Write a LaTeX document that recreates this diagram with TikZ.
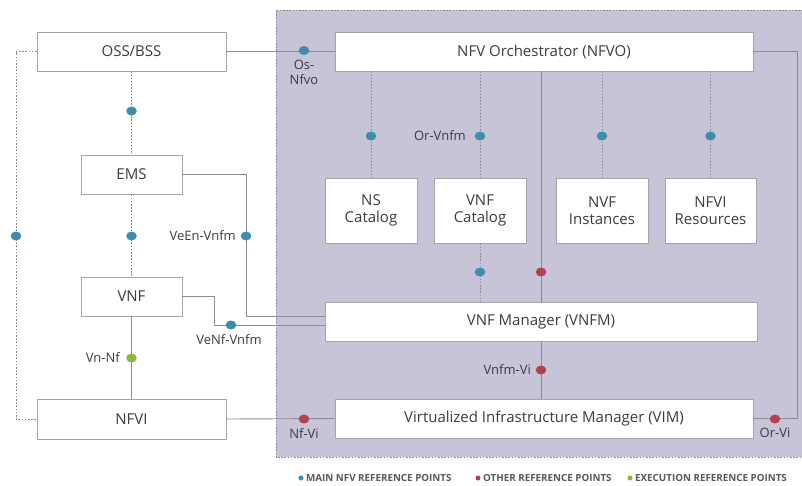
\documentclass[tikz,border=0pt]{standalone}
\usepackage{fontspec}
\setmainfont{Open Sans}
\usepackage{xcolor}
\usetikzlibrary{shapes.geometric}
\definecolor{nfvbg}{RGB}{200,196,216}
\definecolor{boxline}{RGB}{165,165,170}
\definecolor{wire}{RGB}{140,140,148}
\definecolor{txt}{RGB}{60,60,66}
\definecolor{mainpt}{RGB}{62,141,172}
\definecolor{otherpt}{RGB}{180,65,78}
\definecolor{execpt}{RGB}{140,184,60}

\begin{document}
\begin{tikzpicture}[x=1pt,y=-1pt,
  box/.style={draw=boxline, line width=0.9pt, fill=white, text=txt, inner sep=0pt, font=\fontsize{15}{16.5}\selectfont, align=center},
  wirestyle/.style={draw=wire, line width=0.9pt},
  dotline/.style={draw=wire, line width=0.9pt, dash pattern=on 1.6pt off 1.6pt},
  refpt/.style={ellipse, inner sep=0pt, minimum width=10.5pt, minimum height=9pt},
  lbl/.style={text=txt, font=\fontsize{13}{14.5}\selectfont, inner sep=1pt, align=center},
  leg/.style={text=txt!85, font=\fontsize{9.8}{11}\selectfont\bfseries, inner sep=0pt, anchor=west}]
\useasboundingbox (0,0) rectangle (802,485);
\fill [white] (0,0) rectangle (802,485);
\fill [nfvbg] (276,10) rectangle (803,457);
\draw [dotline] (803,10) -- (276,10) -- (276,457) -- (803,457);

\node [box, minimum width=189pt, minimum height=39pt] (oss) at (131.5,51.5) {OSS/BSS};
\node [box, minimum width=418pt, minimum height=39pt] (nfvo) at (544,51.5) {NFV Orchestrator (NFVO)};
\node [box, minimum width=101pt, minimum height=39pt] (ems) at (131.5,174.5) {EMS};
\node [box, minimum width=101pt, minimum height=39pt] (vnf) at (131.5,296.5) {VNF};
\node [box, minimum width=189pt, minimum height=40pt] (nfvi) at (131.5,419) {NFVI};
\node [box, minimum width=92pt, minimum height=65pt] (nscat) at (371,210.5) {NS\\Catalog};
\node [box, minimum width=92pt, minimum height=65pt] (vnfcat) at (480,210.5) {VNF\\Catalog};
\node [box, minimum width=92pt, minimum height=65pt] (nvfinst) at (602,210.5) {NVF\\Instances};
\node [box, minimum width=91pt, minimum height=65pt] (nfvires) at (710.5,210.5) {NFVI\\Resources};
\node [box, minimum width=432pt, minimum height=39pt] (vnfm) at (541,321.5) {VNF Manager (VNFM)};
\node [box, minimum width=418pt, minimum height=39pt] (vim) at (544,418.5) {Virtualized Infrastructure Manager (VIM)};

\coordinate (lft) at (16,236);
\coordinate (rgt) at (797,236);
\coordinate (eenb) at (246,316);
\coordinate (enfb) at (214,325);

\draw [wirestyle] (oss.east) -- (nfvo.west);
\draw [dotline] (oss.south) -- (ems.north);
\draw [dotline] (ems.south) -- (vnf.north);
\draw [dotline] (oss.west) -| (lft) |- (nfvi.west);
\draw [wirestyle] (ems.east) -| (eenb) -- (eenb -| vnfm.west);
\draw [wirestyle] (vnf.east) -| (enfb) -- (enfb -| vnfm.west);
\draw [wirestyle] (vnf.south) -- (nfvi.north);
\draw [wirestyle] (nfvi.east) -- (vim.west);
\draw [dotline] (nfvo.south -| nscat.north) -- (nscat.north);
\draw [dotline] (nfvo.south -| vnfcat.north) -- (vnfcat.north);
\draw [dotline] (nfvo.south -| nvfinst.north) -- (nvfinst.north);
\draw [dotline] (nfvo.south -| nfvires.north) -- (nfvires.north);
\draw [dotline] (vnfcat.south) -- (vnfcat.south |- vnfm.north);
\draw [wirestyle] (nfvo.south -| vnfm.north) -- (vnfm.north);
\draw [wirestyle] (vnfm.south) -- (vnfm.south |- vim.north);
\draw [wirestyle] (nfvo.east) -| (rgt) |- (vim.east);

\node [refpt, fill=mainpt] (osnfvo) at (304,50.5) {};
\node [refpt, fill=mainpt] (p1) at (131.5,111) {};
\node [refpt, fill=mainpt] (p2) at (131.5,236) {};
\node [refpt, fill=mainpt] (p3) at (16,236) {};
\node [refpt, fill=mainpt] (veen) at (246,236) {};
\node [refpt, fill=mainpt] (venf) at (231,325) {};
\node [refpt, fill=execpt] (vnnf) at (131.5,358) {};
\node [refpt, fill=otherpt] (nfvi1) at (304,419) {};
\node [refpt, fill=mainpt] (p4) at (371,136) {};
\node [refpt, fill=mainpt] (orvnfm) at (480,136) {};
\node [refpt, fill=mainpt] (p5) at (602,136) {};
\node [refpt, fill=mainpt] (p6) at (710.5,136) {};
\node [refpt, fill=mainpt] (p7) at (480,272) {};
\node [refpt, fill=otherpt] (p8) at (541,272) {};
\node [refpt, fill=otherpt] (vnfmvi) at (541,370) {};
\node [refpt, fill=otherpt] (orvi) at (775,419) {};

\node [lbl, anchor=north] at (304,59) {Os-\\Nfvo};
\node [lbl, anchor=east] at (467,136) {Or-Vnfm};
\node [lbl, anchor=east] at (237,236) {VeEn-Vnfm};
\node [lbl, anchor=north] at (229,333) {VeNf-Vnfm};
\node [lbl, anchor=east] at (121,358) {Vn-Nf};
\node [lbl, anchor=north] at (304,427) {Nf-Vi};
\node [lbl, anchor=east] at (532,370) {Vnfm-Vi};
\node [lbl, anchor=north] at (775,427) {Or-Vi};

\node [refpt, fill=mainpt, minimum width=5pt, minimum height=5pt] (lg1) at (301,478) {};
\node [leg] at (306,478) {MAIN NFV REFERENCE POINTS};
\node [refpt, fill=otherpt, minimum width=5pt, minimum height=5pt] (lg2) at (478,478) {};
\node [leg] at (483,478) {OTHER REFERENCE POINTS};
\node [refpt, fill=execpt, minimum width=5pt, minimum height=5pt] (lg3) at (630,478) {};
\node [leg] at (635,478) {EXECUTION REFERENCE POINTS};
\end{tikzpicture}
\end{document}
